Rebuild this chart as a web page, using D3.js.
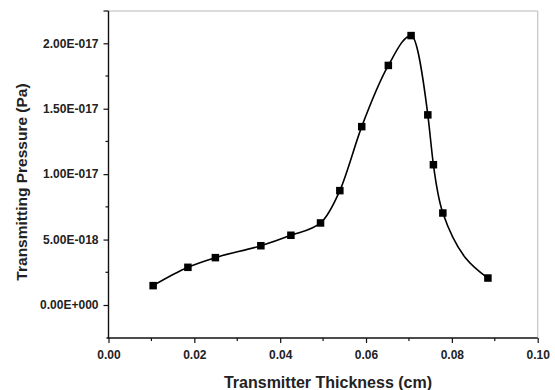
<!DOCTYPE html>
<html>
<head>
<meta charset="utf-8">
<script src="https://cdn.jsdelivr.net/npm/d3@7"></script>
<style>
  html, body { margin: 0; padding: 0; background: #fff; }
  svg { display: block; font-family: "Liberation Sans", Arial, sans-serif; }
</style>
</head>
<body>
<svg id="chart" width="555" height="390"></svg>
<script>
// Data
const thickness = [0.0104, 0.0185, 0.0249, 0.0355, 0.0425, 0.0494, 0.0539, 0.0590, 0.0652, 0.0705, 0.0744, 0.0757, 0.0779, 0.0884];
const pressure  = [1.48e-18, 2.88e-18, 3.62e-18, 4.53e-18, 5.33e-18, 6.27e-18, 8.74e-18, 13.63e-18, 18.31e-18, 20.59e-18, 14.53e-18, 10.72e-18, 7.03e-18, 2.06e-18];
const xTicks = [0.00, 0.02, 0.04, 0.06, 0.08, 0.10];
const xTickLabels = ["0.00", "0.02", "0.04", "0.06", "0.08", "0.10"];
const yTicks = [0, 5e-18, 1e-17, 1.5e-17, 2e-17];
const yTickLabels = ["0.00E+000", "5.00E-018", "1.00E-017", "1.50E-017", "2.00E-017"];
const xMinor = [0.01, 0.03, 0.05, 0.07, 0.09];
const yMinor = [2.5e-18, 7.5e-18, 1.25e-17, 1.75e-17];
const xTitle = "Transmitter Thickness (cm)";
const yTitle = "Transmitting Pressure (Pa)";

(function () {
const svg = d3.select("#chart");
const pLeft = 108.5, pRight = 537.7, pTop = 11, pBottom = 338;

const x = d3.scaleLinear().domain([0, 0.10]).range([pLeft, pRight]);
const y = d3.scaleLinear().domain([0, 2e-17]).range([305, 43.3]);

// frame: top and right borders in light grey
svg.append("line").attr("x1", pLeft).attr("x2", pRight).attr("y1", pTop).attr("y2", pTop)
  .attr("stroke", "#b8b8b8").attr("stroke-width", 1.2);
svg.append("line").attr("x1", pRight).attr("x2", pRight).attr("y1", pTop).attr("y2", pBottom)
  .attr("stroke", "#c4c4c4").attr("stroke-width", 1.2);

// X axis
const xAxis = d3.axisBottom(x).tickValues(xTicks)
  .tickFormat((d, i) => xTickLabels[i]).tickSize(5).tickPadding(7).tickSizeOuter(0);
const gx = svg.append("g").attr("transform", `translate(0,${pBottom})`).call(xAxis);
gx.select(".domain").attr("stroke", "#111").attr("stroke-width", 1.4)
  .attr("d", `M${pLeft - 2},0H${pRight}`);
gx.selectAll(".tick line").attr("stroke", "#111").attr("stroke-width", 1.2);
gx.selectAll(".tick text").attr("font-size", 12).attr("font-weight", "bold")
  .attr("fill", "#222").style("font-family", "'Liberation Sans', Arial, sans-serif");
gx.selectAll(".minor").data(xMinor).enter().append("line")
  .attr("x1", d => x(d)).attr("x2", d => x(d)).attr("y1", 0).attr("y2", 3)
  .attr("stroke", "#111").attr("stroke-width", 1.2);

// Y axis
const yAxis = d3.axisLeft(y).tickValues(yTicks)
  .tickFormat((d, i) => yTickLabels[i]).tickSize(5).tickPadding(5).tickSizeOuter(0);
const gy = svg.append("g").attr("transform", `translate(${pLeft},0)`).call(yAxis);
gy.select(".domain").attr("stroke", "#111").attr("stroke-width", 1.4)
  .attr("d", `M0,${pBottom}V${pTop}`);
gy.selectAll(".tick line").attr("stroke", "#111").attr("stroke-width", 1.2);
gy.selectAll(".tick text").attr("font-size", 12).attr("font-weight", "bold")
  .attr("fill", "#222").style("font-family", "'Liberation Sans', Arial, sans-serif");
gy.selectAll(".minor").data(yMinor).enter().append("line")
  .attr("x1", 0).attr("x2", -3).attr("y1", d => y(d)).attr("y2", d => y(d))
  .attr("stroke", "#111").attr("stroke-width", 1.2);
gy.append("line").attr("x1", 0).attr("x2", -5).attr("y1", pTop).attr("y2", pTop)
  .attr("stroke", "#111").attr("stroke-width", 1.2);

// titles
svg.append("text").attr("x", 328).attr("y", 388)
  .attr("text-anchor", "middle").attr("font-size", 16).attr("font-weight", "bold")
  .attr("fill", "#222").text(xTitle);
svg.append("text").attr("transform", "translate(27,182) rotate(-90)")
  .attr("text-anchor", "middle").attr("font-size", 15.5).attr("font-weight", "bold")
  .attr("fill", "#222").text(yTitle);

// data
const pts = thickness.map((t, i) => [t, pressure[i]]);
const line = d3.line().x(d => x(d[0])).y(d => y(d[1])).curve(d3.curveMonotoneX);
svg.append("path").datum(pts).attr("d", line)
  .attr("fill", "none").attr("stroke", "#000").attr("stroke-width", 1.6);

const s = 7.5;
svg.selectAll(".pt").data(pts).enter().append("rect")
  .attr("x", d => x(d[0]) - s / 2).attr("y", d => y(d[1]) - s / 2)
  .attr("width", s).attr("height", s).attr("fill", "#000");
})();
</script>
</body>
</html>
